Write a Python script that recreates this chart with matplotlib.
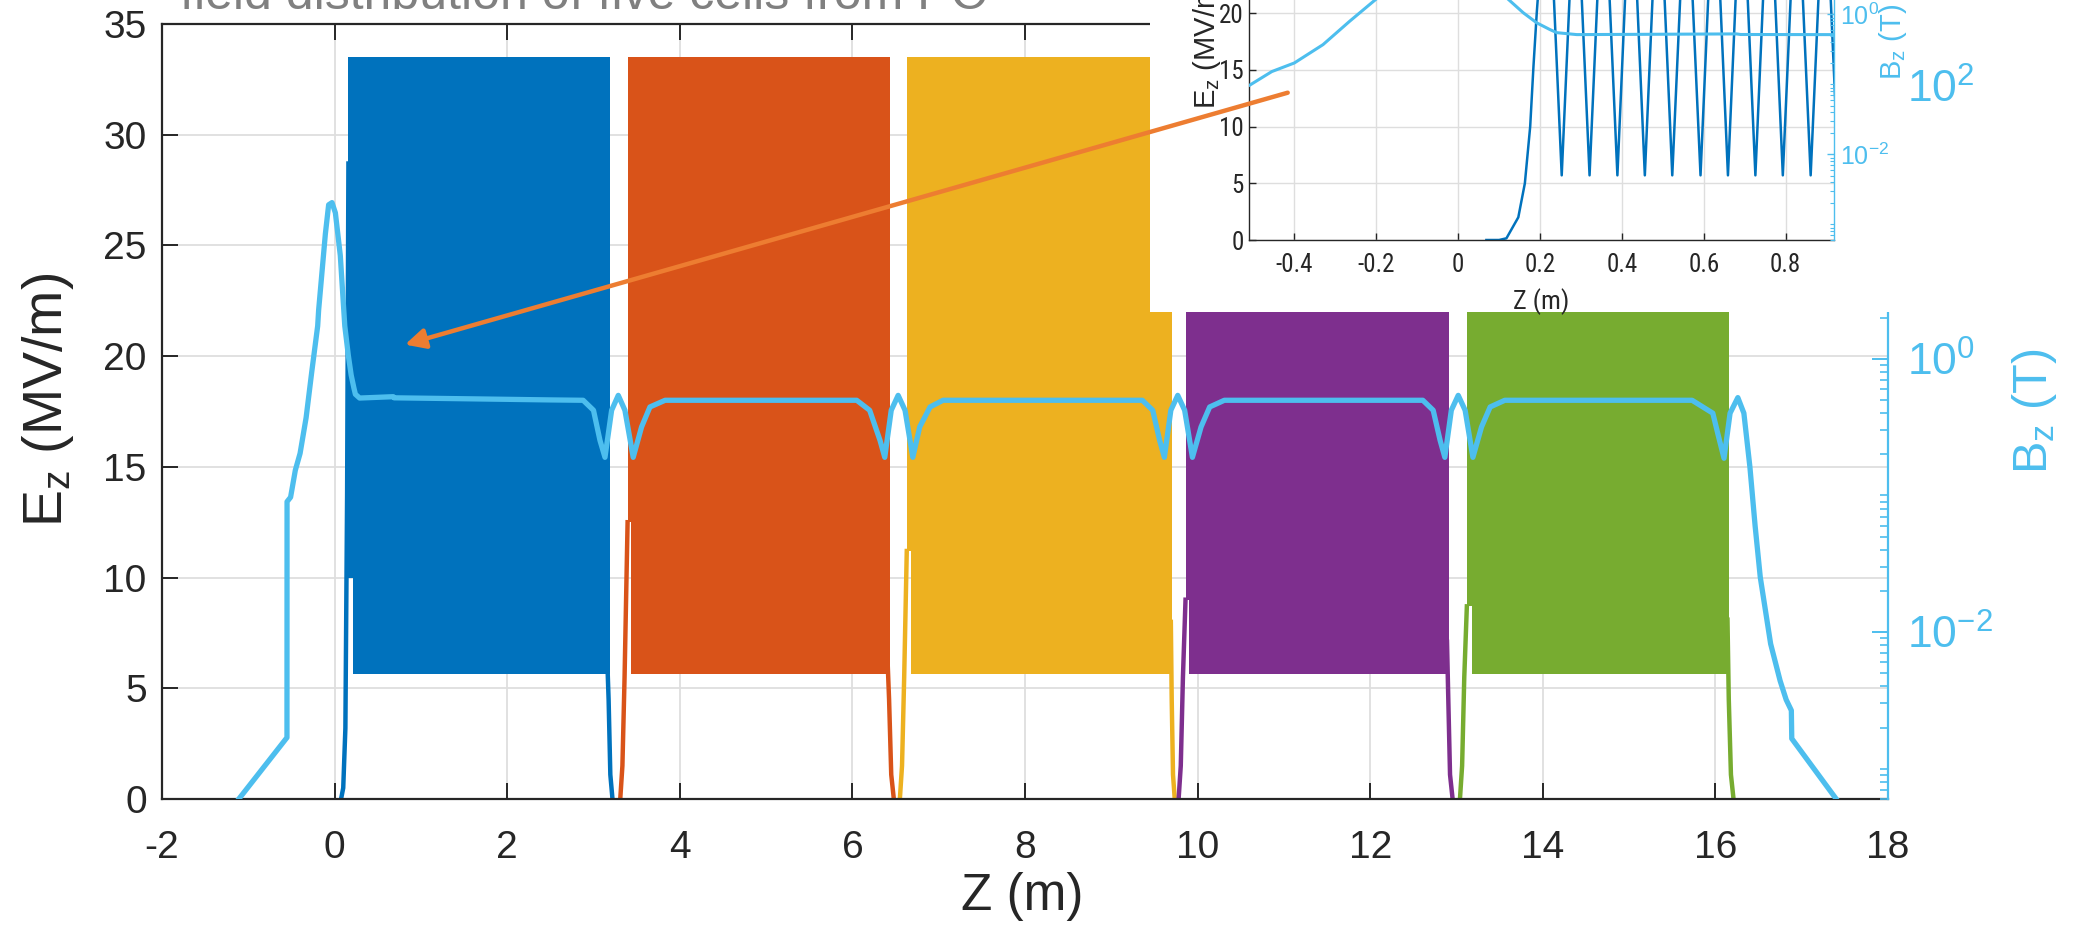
import matplotlib
matplotlib.use('Agg')
import matplotlib.pyplot as plt
from matplotlib import font_manager
from matplotlib.patches import Rectangle, FancyArrowPatch, Polygon
from matplotlib.ticker import FixedLocator, NullFormatter, FuncFormatter

names = {f.name for f in font_manager.fontManager.ttflist}
MAIN_FONT = 'Liberation Sans' if 'Liberation Sans' in names else 'DejaVu Sans'

# look for a condensed face for the (horizontally squeezed) inset
COND_FAMILY, COND_STRETCH = None, 'normal'
for nm in ('Liberation Sans Narrow', 'Roboto Condensed', 'Open Sans Condensed', 'Arial Narrow'):
    if nm in names:
        COND_FAMILY, COND_STRETCH = nm, 'normal'
        break
if COND_FAMILY is None:
    cond_words = ('condensed', 'narrow')
    for pref in ('Roboto', 'Noto Sans', 'Open Sans', 'DejaVu Sans', 'Liberation Sans'):
        for f in font_manager.fontManager.ttflist:
            st = f.stretch
            is_cond = (isinstance(st, str) and 'condensed' in st and 'expanded' not in st) or \
                      (isinstance(st, (int, float)) and st < 500)
            if f.name == pref and is_cond:
                COND_FAMILY, COND_STRETCH = pref, st
                break
        if COND_FAMILY:
            break
if COND_FAMILY is None:
    COND_FAMILY, COND_STRETCH = MAIN_FONT, 'normal'
NARROW_OK = COND_FAMILY != MAIN_FONT or COND_STRETCH != 'normal'

plt.rcParams['font.family'] = [MAIN_FONT, 'DejaVu Sans']
plt.rcParams['mathtext.fontset'] = 'custom'
plt.rcParams['mathtext.rm'] = MAIN_FONT
plt.rcParams['mathtext.it'] = MAIN_FONT + ':italic'
plt.rcParams['mathtext.bf'] = MAIN_FONT + ':bold'

# ---------------- data ----------------
title_text = 'field distribution of five cells from PC'

x_ticks = [-2, 0, 2, 4, 6, 8, 10, 12, 14, 16, 18]
ez_ticks = [0, 5, 10, 15, 20, 25, 30, 35]

cell_colors = ['#0072BD', '#D95319', '#EDB120', '#7E2F8E', '#77AC30']
cell_start = [0.155, 3.395, 6.630, 9.860, 13.120]
cell_inner = [0.215, 3.440, 6.675, 9.905, 13.185]
cell_end = [3.190, 6.440, 9.700, 12.910, 16.160]
cell_top = [33.5, 33.5, 33.5, 33.5, 33.5]
cell_bottom = [5.65, 5.65, 5.65, 5.65, 5.65]
cell_notch = [10.0, 12.5, 11.2, 9.0, 8.7]

left_edge_z = [[0.075, 0.100, 0.125, 0.145, 0.160],
               [3.310, 3.335, 3.360, 3.395],
               [6.550, 6.575, 6.600, 6.630],
               [9.780, 9.805, 9.830, 9.860],
               [13.040, 13.065, 13.090, 13.120]]
left_edge_v = [[0.0, 0.5, 3.2, 13.8, 28.7],
               [0.0, 1.5, 5.5, 12.5],
               [0.0, 1.5, 5.5, 11.2],
               [0.0, 1.5, 5.5, 9.0],
               [0.0, 1.5, 5.5, 8.7]]
right_edge_z = [[3.160, 3.175, 3.195, 3.220],
                [6.410, 6.425, 6.450, 6.480],
                [9.690, 9.700, 9.715, 9.735],
                [12.890, 12.905, 12.925, 12.955],
                [16.140, 16.155, 16.180, 16.210]]
right_edge_v = [[6.2, 4.5, 1.1, 0.0],
                [6.0, 4.5, 1.1, 0.0],
                [8.0, 4.5, 1.1, 0.0],
                [7.1, 4.5, 1.1, 0.0],
                [8.1, 4.5, 1.1, 0.0]]

bz_z = [-1.110, -0.552, -0.551, -0.510, -0.455, -0.400, -0.330, -0.265, -0.216, -0.196,
        -0.185, -0.107, -0.069, -0.030, 0.009, 0.066, 0.118, 0.159, 0.192, 0.224,
        0.241, 0.290, 0.680, 0.690, 1.500, 2.500,
        2.880, 3.000, 3.075, 3.133, 3.210, 3.287, 3.364, 3.460, 3.557, 3.654, 3.830,
        6.050, 6.200, 6.320, 6.375, 6.450, 6.530, 6.610, 6.700, 6.780, 6.900, 7.050,
        9.360, 9.480, 9.560, 9.615, 9.690, 9.770, 9.850, 9.940, 10.040, 10.140, 10.310,
        12.610, 12.730, 12.810, 12.865, 12.940, 13.020, 13.100, 13.190, 13.290, 13.390, 13.560,
        15.730, 15.970, 16.030, 16.100, 16.170, 16.260, 16.330, 16.400, 16.460, 16.520,
        16.640, 16.750, 16.820, 16.880, 16.885, 17.400]
bz_v = [6.0e-4, 1.69e-3, 0.090, 0.097, 0.153, 0.203, 0.371, 0.80, 1.39, 1.74,
        2.27, 8.2, 13.4, 13.9, 11.7, 5.7, 1.74, 1.06, 0.76, 0.61,
        0.55, 0.516, 0.528, 0.518, 0.51, 0.50,
        0.497, 0.42, 0.253, 0.19, 0.42, 0.54, 0.42, 0.19, 0.317, 0.444, 0.497,
        0.497, 0.42, 0.253, 0.19, 0.42, 0.54, 0.42, 0.19, 0.317, 0.444, 0.497,
        0.497, 0.42, 0.253, 0.19, 0.42, 0.54, 0.42, 0.19, 0.317, 0.444, 0.497,
        0.497, 0.42, 0.253, 0.19, 0.42, 0.54, 0.42, 0.19, 0.317, 0.444, 0.497,
        0.497, 0.40, 0.28, 0.187, 0.40, 0.52, 0.40, 0.161, 0.060, 0.0252,
        8.2e-3, 4.4e-3, 3.2e-3, 2.67e-3, 1.66e-3, 6.0e-4]

# inset: first cell Ez trace (zoomed)
inset_x_ticks = [-0.4, -0.2, 0, 0.2, 0.4, 0.6, 0.8]
inset_x_labels = ['-0.4', '-0.2', '0', '0.2', '0.4', '0.6', '0.8']
ez_in_z = [0.069, 0.100, 0.118, 0.147, 0.163, 0.176, 0.184, 0.192,
           0.219, 0.253, 0.287, 0.321, 0.355, 0.389, 0.4225, 0.456, 0.4895, 0.523,
           0.5575, 0.592, 0.6255, 0.659, 0.6925, 0.726, 0.7595, 0.793, 0.827, 0.861,
           0.895, 0.929]
ez_in_v = [0.0, 0.0, 0.15, 2.0, 5.0, 10.0, 15.3, 20.0,
           33.5, 5.7, 33.5, 5.7, 33.5, 5.7, 33.5, 5.7, 33.5, 5.7,
           33.5, 5.7, 33.5, 5.7, 33.5, 5.7, 33.5, 5.7, 33.5, 5.7,
           33.5, 5.7]

# ---------------- styles ----------------
W, H = 2082, 939
BZ_COLOR = '#4DBEEE'
AX_COLOR = '#262626'
GRID_COLOR = '#dedede'
ARROW_COLOR = '#ED7D31'


def fx(px):
    return px / W


def fy(py):
    return 1 - py / H


def log_fmt(v, pos):
    import math
    e = int(round(math.log10(v)))
    return r'$10^{%d}$' % e


fig = plt.figure(figsize=(W / 100, H / 100), dpi=100)

# title text (cut at top of canvas)
fig.text(fx(180), fy(9), title_text, fontsize=36, color='#808080',
         ha='left', va='baseline', zorder=0.5)

# ---------------- main axes ----------------
ax = fig.add_axes([fx(162), fy(799), (1888 - 162) / W, (799 - 24) / H])
ax.set_zorder(1)
ax.set_xlim(-2, 18)
ax.set_ylim(0, 35)
ax.set_xticks(x_ticks)
ax.set_yticks(ez_ticks)
ax.grid(True, color=GRID_COLOR, lw=1.3)
ax.set_axisbelow(True)

for i in range(5):
    s, inn, e = cell_start[i], cell_inner[i], cell_end[i]
    poly = [(s, cell_notch[i]), (s, cell_top[i]), (e, cell_top[i]), (e, cell_bottom[i]),
            (inn, cell_bottom[i]), (inn, cell_notch[i])]
    ax.add_patch(Polygon(poly, closed=True, facecolor=cell_colors[i], edgecolor='none', zorder=2))
    ax.plot(left_edge_z[i], left_edge_v[i], color=cell_colors[i], lw=3.2, zorder=2)
    ax.plot(right_edge_z[i], right_edge_v[i], color=cell_colors[i], lw=3.2, zorder=2)

for side in ['left', 'bottom', 'top']:
    ax.spines[side].set_color(AX_COLOR)
    ax.spines[side].set_linewidth(1.6)
ax.spines['right'].set_visible(False)
ax.tick_params(axis='x', direction='in', length=11.5, width=1.4, top=True, bottom=True,
               labelsize=28, colors=AX_COLOR, pad=22)
ax.tick_params(axis='y', direction='in', length=11.5, width=1.4, left=True, right=False,
               labelsize=28, colors=AX_COLOR, pad=11)
ax.set_xticklabels([str(t) for t in x_ticks])
ax.set_xlabel('Z (m)', fontsize=37, color=AX_COLOR)
ax.xaxis.set_label_coords((1022 - 162) / 1726, (799 - 872) / 775)
ax.set_ylabel(r'E$_\mathrm{z}$ (MV/m)', fontsize=40, color=AX_COLOR)
ax.yaxis.set_label_coords((76 - 162) / 1726, (799 - 400) / 775)

ax2 = ax.twinx()
ax2.set_zorder(2)
ax2.set_yscale('log')
ax2.set_ylim(6.0e-4, 282)
ax2.plot(bz_z, bz_v, color=BZ_COLOR, lw=3.8, zorder=3)
ax2.yaxis.set_major_locator(FixedLocator([1e-2, 1e0, 1e2]))
minors = []
for d in range(-4, 3):
    for m in range(1, 10):
        v = m * 10.0 ** d
        if v not in (1e-2, 1e0, 1e2):
            minors.append(v)
ax2.yaxis.set_minor_locator(FixedLocator(minors))
ax2.yaxis.set_minor_formatter(NullFormatter())
ax2.yaxis.set_major_formatter(FuncFormatter(log_fmt))
for side in ['left', 'bottom', 'top']:
    ax2.spines[side].set_visible(False)
ax2.spines['right'].set_color(BZ_COLOR)
ax2.spines['right'].set_linewidth(1.6)
ax2.tick_params(axis='y', which='major', direction='in', length=11.5, width=1.4,
                colors=BZ_COLOR, labelsize=32, pad=14)
ax2.tick_params(axis='y', which='minor', direction='in', length=6, width=1.2, colors=BZ_COLOR)
ax2.set_ylabel(r'B$_\mathrm{z}$ (T)', fontsize=35, color=BZ_COLOR)
ax2.yaxis.set_label_coords((2010 - 162) / 1726, (799 - 411) / 775)

# ---------------- inset (pasted zoom of first cell) ----------------
fig.add_artist(Rectangle((fx(1150), fy(312)), (1902 - 1150) / W, 312 / H,
                         transform=fig.transFigure, facecolor='white', edgecolor='none', zorder=5))

in_l, in_r, in_b, in_t = 1249.3, 1834.0, 240.0, -157.0
iax = fig.add_axes([fx(in_l), fy(in_b), (in_r - in_l) / W, (in_b - in_t) / H])
iax.set_zorder(6)
iax.set_facecolor('none')
iax.set_xlim(-0.51, 0.918)
iax.set_ylim(0, 35)
iax.set_xticks(inset_x_ticks)
iax.set_xticklabels(inset_x_labels)
iax.set_yticks(ez_ticks)
iax.grid(True, color=GRID_COLOR, lw=1.0)
iax.set_axisbelow(True)
iax.plot(ez_in_z, ez_in_v, color='#0072BD', lw=1.8, zorder=2)
tsize = 18 if NARROW_OK else 16
for side in ['left', 'bottom', 'top']:
    iax.spines[side].set_color(AX_COLOR)
    iax.spines[side].set_linewidth(1.0)
iax.spines['right'].set_visible(False)
iax.tick_params(axis='x', direction='in', length=5, width=1.0, top=True, labelsize=tsize,
                colors=AX_COLOR, pad=9)
iax.tick_params(axis='y', direction='in', length=5, width=1.0, right=False, labelsize=tsize,
                colors=AX_COLOR, pad=4)
for lab in iax.get_xticklabels() + iax.get_yticklabels():
    lab.set_fontfamily(COND_FAMILY)
    lab.set_fontstretch(COND_STRETCH)
iax.set_xlabel('Z (m)', fontsize=tsize + 1, color=AX_COLOR, fontfamily=COND_FAMILY,
               fontstretch=COND_STRETCH)
iax.xaxis.set_label_coords(0.5, (240 - 288) / 397)
iax.set_ylabel(r'E$_\mathrm{z}$ (MV/m)', fontsize=tsize + 3, color=AX_COLOR)
iax.yaxis.set_label_coords((1223 - in_l) / (in_r - in_l), 0.5)

iax2 = iax.twinx()
iax2.set_zorder(7)
iax2.set_yscale('log')
iax2.set_ylim(6.0e-4, 282)
iax2.plot(bz_z, bz_v, color=BZ_COLOR, lw=2.2, zorder=3)
iax2.yaxis.set_major_locator(FixedLocator([1e-2, 1e0, 1e2]))
iax2.yaxis.set_minor_locator(FixedLocator(minors))
iax2.yaxis.set_minor_formatter(NullFormatter())
iax2.yaxis.set_major_formatter(FuncFormatter(log_fmt))
for side in ['left', 'bottom', 'top']:
    iax2.spines[side].set_visible(False)
iax2.spines['right'].set_color(BZ_COLOR)
iax2.spines['right'].set_linewidth(1.0)
iax2.tick_params(axis='y', which='major', direction='in', length=5, width=1.0,
                 colors=BZ_COLOR, labelsize=tsize, pad=4)
iax2.tick_params(axis='y', which='minor', direction='in', length=3, width=0.8, colors=BZ_COLOR)
iax2.set_ylabel(r'B$_\mathrm{z}$ (T)', fontsize=tsize + 3, color=BZ_COLOR)
iax2.yaxis.set_label_coords((1877 - in_l) / (in_r - in_l), 0.5)

# ---------------- arrow ----------------
fig.add_artist(FancyArrowPatch((fx(1287.7), fy(92.7)), (fx(405), fy(344.6)),
                               transform=fig.transFigure, arrowstyle='-|>', mutation_scale=30,
                               lw=3.2, color=ARROW_COLOR, shrinkA=0, shrinkB=0, zorder=10))

fig.savefig('out.png', dpi=100)
